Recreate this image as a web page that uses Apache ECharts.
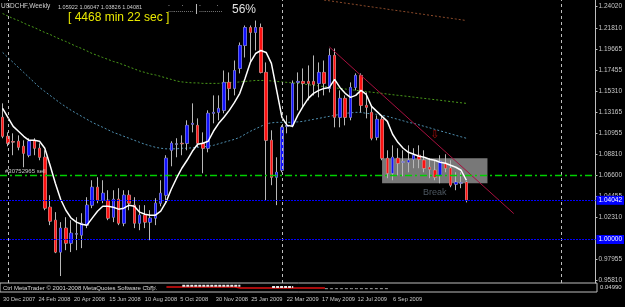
<!DOCTYPE html>
<html><head><meta charset="utf-8">
<script src="https://cdn.jsdelivr.net/npm/echarts@6/dist/echarts.min.js"></script>
<style>html,body{margin:0;padding:0;background:#000;}#c{width:625px;height:307px;}</style>
</head><body><div id="c"></div>
<script>
// ---- data (USDCHF weekly) ----
const months = ['Jan','Feb','Mar','Apr','May','Jun','Jul','Aug','Sep','Oct','Nov','Dec'];
const firstWeek = Date.UTC(2007, 11, 23);
const weekCount = 113; // visible slots incl. chart shift
const categories = Array.from({length: weekCount}, (_, i) => {
  const d = new Date(firstWeek + i * 7 * 864e5);
  return d.getUTCDate() + ' ' + months[d.getUTCMonth()] + ' ' + d.getUTCFullYear();
});
const opens = [1.1260,1.1064,1.1010,1.1013,1.0961,1.0869,1.1023,1.0941,1.0848,1.0333,
1.0199,0.9870,1.0117,0.9962,1.0055,1.0045,1.0148,1.0354,1.0539,1.0405,
1.0405,1.0230,1.0415,1.0168,1.0457,1.0354,1.0168,1.0251,1.0179,1.0220,
1.0374,1.0457,1.0920,1.0982,1.0992,1.0992,1.1188,1.1177,1.0992,1.0941,
1.1301,1.1311,1.1332,1.1620,1.1558,1.1764,1.2001,1.2186,1.2135,1.2186,
1.1723,1.1023,1.0642,1.0714,1.1167,1.1177,1.1620,1.1630,1.1630,1.1630,
1.1610,1.1723,1.1558,1.1898,1.1260,1.1455,1.1260,1.1568,1.1692,1.1383,
1.1311,1.1054,1.1239,1.0838,1.0683,1.0838,1.0796,1.0796,1.0827,1.0869,
1.0817,1.0745,1.0714,1.0663,1.0786,1.0735,1.0570,1.0580,1.05922];
const closes = [1.1064,1.0992,1.1004,1.0951,1.0889,1.1013,1.0941,1.0848,1.0323,1.0189,
0.9870,1.0117,0.9962,1.0065,1.0060,1.0168,1.0354,1.0539,1.0405,1.0477,
1.0220,1.0415,1.0168,1.0457,1.0374,1.0168,1.0251,1.0179,1.0220,1.0374,
1.0477,1.0838,1.0992,1.0987,1.0987,1.1177,1.1198,1.0992,1.0941,1.1301,
1.1311,1.1352,1.1620,1.1558,1.1743,1.2001,1.2186,1.2135,1.2186,1.1723,
1.1023,1.0642,1.0693,1.1157,1.1177,1.1610,1.1630,1.1610,1.1610,1.1599,
1.1723,1.1610,1.1898,1.1260,1.1455,1.1260,1.1568,1.1692,1.1383,1.1363,
1.1044,1.1239,1.0838,1.0683,1.0848,1.0786,1.0802,1.0817,1.0869,1.0827,
1.0735,1.0724,1.0642,1.0807,1.0735,1.0560,1.0591,1.0586,1.04081];
const lows = [1.1044,1.0961,1.0869,1.0920,1.0745,1.0848,1.0869,1.0817,1.0302,1.0148,
0.9859,0.9623,0.9890,0.9870,0.9890,0.9911,1.0117,1.0323,1.0374,1.0374,
1.0199,1.0179,1.0148,1.0137,1.0302,1.0117,1.0096,1.0117,0.9993,1.0148,
1.0343,1.0385,1.0755,1.0848,1.0869,1.0920,1.1105,1.0951,1.0683,1.0899,
1.1198,1.1229,1.1301,1.1435,1.1486,1.1713,1.1877,1.1826,1.1949,1.1713,
1.0405,1.0560,1.0354,1.0693,1.1095,1.1157,1.1332,1.1363,1.1435,1.1486,
1.1466,1.1486,1.1517,1.1157,1.1157,1.1177,1.1229,1.1538,1.1311,1.1249,
1.1023,1.1023,1.0817,1.0632,1.0611,1.0663,1.0652,1.0693,1.0735,1.0735,
1.0693,1.0632,1.0611,1.0580,1.0693,1.0539,1.0508,1.0529,1.03826];
const highs = [1.1404,1.1105,1.1095,1.1074,1.1023,1.1044,1.1044,1.0992,1.0920,1.0457,
1.0282,1.0179,1.0230,1.0199,1.0230,1.0271,1.0436,1.0611,1.0642,1.0611,
1.0508,1.0508,1.0529,1.0508,1.0508,1.0436,1.0354,1.0354,1.0302,1.0426,
1.0611,1.0869,1.1013,1.1044,1.1074,1.1229,1.1404,1.1249,1.1105,1.1332,
1.1486,1.1486,1.1743,1.1723,1.1846,1.2032,1.2207,1.2207,1.2258,1.2227,
1.1826,1.1126,1.0848,1.1177,1.1280,1.1640,1.1723,1.1764,1.1795,1.1898,
1.1826,1.1846,1.1970,1.1970,1.1538,1.1486,1.1620,1.1713,1.1713,1.1517,
1.1383,1.1280,1.1280,1.0920,1.0971,1.0941,1.0920,1.0971,1.0941,1.0971,
1.0920,1.0838,1.0817,1.0869,1.0879,1.0817,1.0693,1.0693,1.06047];
const maFast = [1.1352,1.1260,1.1167,1.1116,1.1064,1.1023,1.1023,1.1013,1.0941,1.0765,
1.0580,1.0415,1.0302,1.0220,1.0179,1.0158,1.0148,1.0220,1.0292,1.0343,
1.0343,1.0333,1.0313,1.0323,1.0354,1.0343,1.0282,1.0261,1.0251,1.0251,
1.0292,1.0385,1.0518,1.0632,1.0735,1.0817,1.0910,1.0982,1.0992,1.1013,
1.1116,1.1198,1.1260,1.1332,1.1414,1.1507,1.1661,1.1826,1.1918,1.1949,
1.1929,1.1816,1.1538,1.1260,1.1177,1.1167,1.1280,1.1373,1.1455,1.1507,
1.1538,1.1558,1.1568,1.1651,1.1568,1.1507,1.1466,1.1486,1.1538,1.1496,
1.1373,1.1321,1.1270,1.1218,1.1085,1.1002,1.0941,1.0899,1.0879,1.0858,
1.0848,1.0827,1.0817,1.0796,1.0786,1.0765,1.0745,1.0714,1.0611];
const maGreen = [1.2330,1.2304,1.2279,1.2258,1.2232,1.2207,1.2186,1.2160,1.2135,1.2114,
1.2088,1.2063,1.2042,1.2016,1.1991,1.1970,1.1944,1.1918,1.1898,1.1877,
1.1857,1.1836,1.1821,1.1800,1.1779,1.1759,1.1738,1.1723,1.1707,1.1697,
1.1682,1.1666,1.1651,1.1635,1.1625,1.1620,1.1615,1.1615,1.1610,1.1610,
1.1610,1.1610,1.1615,1.1620,1.1620,1.1625,1.1630,1.1635,1.1640,1.1640,
1.1640,1.1635,1.1630,1.1625,1.1620,1.1615,1.1610,1.1603,1.1596,1.1590,
1.1584,1.1577,1.1571,1.1564,1.1558,1.1552,1.1545,1.1539,1.1532,1.1526,
1.1519,1.1513,1.1507,1.1500,1.1493,1.1487,1.1481,1.1475,1.1468,1.1461,
1.1455,1.1449,1.1442,1.1436,1.1429,1.1423,1.1416,1.1410,1.1404];
const maBlue = [1.1929,1.1877,1.1826,1.1774,1.1723,1.1671,1.1620,1.1568,1.1527,1.1486,
1.1445,1.1404,1.1368,1.1332,1.1301,1.1270,1.1239,1.1208,1.1182,1.1157,
1.1131,1.1105,1.1085,1.1064,1.1044,1.1023,1.1002,1.0982,1.0966,1.0951,
1.0941,1.0935,1.0935,1.0935,1.0941,1.0941,1.0946,1.0951,1.0956,1.0961,
1.0971,1.0987,1.1002,1.1018,1.1033,1.1054,1.1085,1.1116,1.1141,1.1167,
1.1193,1.1203,1.1208,1.1208,1.1208,1.1208,1.1213,1.1218,1.1229,1.1239,
1.1249,1.1260,1.1270,1.1280,1.1291,1.1301,1.1306,1.1311,1.1311,1.1301,
1.1296,1.1291,1.1280,1.1270,1.1254,1.1239,1.1224,1.1208,1.1198,1.1182,
1.1167,1.1152,1.1136,1.1121,1.1105,1.1090,1.1074,1.1059,1.1044];
const maBrownStart = 61;
const maBrown = [1.2469,1.2462,1.2454,1.2446,1.2438,1.2430,1.2423,1.2415,1.2406,1.2399,
1.2391,1.2384,1.2375,1.2367,1.2360,1.2352,1.2345,1.2336,1.2328,1.2321,
1.2313,1.2305,1.2297,1.2289,1.2282,1.2274,1.2266,1.2258];
const trendIdx = [62, 97];
const trendVal = [1.1986, 1.0267];
const boxIdx = [72, 92];
const boxVal = [1.0838, 1.0580];
const orderLevel = 1.06600;
const priceLines = [1.04042, 1.00000];
const yTicks = [1.24020,1.21810,1.19665,1.17455,1.15310,1.13165,1.10955,1.08810,1.06600,1.04455,1.02310,0.97955,0.95810];
const dateLabels = ['30 Dec 2007','24 Feb 2008','20 Apr 2008','15 Jun 2008','10 Aug 2008','5 Oct 2008','30 Nov 2008','25 Jan 2009','22 Mar 2009','17 May 2009','12 Jul 2009','6 Sep 2009'];
const yearStarts = ['30 Dec 2007','28 Dec 2008','3 Jan 2010'];
// sub-window indicator (rough read)
const subStart = 27;
const subRed = [null,null,null,null,5.5,5.5,5.5,5.5,5.5,5.5,5.5,5.5,5.5,5.5,5.5,5.5,5.5,5.5,
4.4,4.4,4.4,4.4,4.4,4.4,4.4,4.4,4.4,4.4,4.4,4.4,4.4,4.4,4.4,4.4,4.4];
const subGray = [6,6,6,null,null,null,null,null,null,null,null,null,null,null,null,null,null,null,
null,null,null,null,null,null,null,null,null,null,null,null,null,null,null,null,3.7,3.7,3.7,3.7,3.7,3.7,3.7,3.7,3.7,3.7,3.7,3.7,3.7];
const subWhite = [null,null,null,null,null,null,null,7,7,7,7,7,7,7,7,7,7,7,7,null,null,null,null,null,5.5,5.5,5.5,5.5,5.5];

// ---- helpers ----
function hasFont(name) {
  const c = document.createElement('canvas').getContext('2d');
  const s = 'abcdefghij 0123456789';
  c.font = '20px monospace'; const a = c.measureText(s).width;
  c.font = '20px "' + name + '", monospace'; const b = c.measureText(s).width;
  return a !== b;
}
const FONT = 'Liberation Sans, Arial, sans-serif';
const narrow = hasFont('Liberation Sans Narrow');
const DATE_FONT = narrow ? 'Liberation Sans Narrow' : FONT;
const DATE_SIZE = narrow ? 7 : 5.7;

const offset = (start, arr) => categories.map((_, i) => (i >= start && i - start < arr.length ? arr[i - start] : null));
const wicks = opens.map((o, i) => [o, closes[i], lows[i], highs[i]]);
const bodies = opens.map((o, i) => [o, closes[i], Math.min(o, closes[i]), Math.max(o, closes[i])]);

const chart = echarts.init(document.getElementById('c'), null, {renderer: 'canvas'});
chart.setOption({
  backgroundColor: '#000000',
  animation: false,
  grid: [
    {left: 0, right: 28, top: 0, height: 283},
    {left: 0, right: 28, top: 283, height: 9, show: true, borderColor: '#bdbdbd', borderWidth: 1},
    {left: 2, width: 391, top: 293, height: 1}
  ],
  xAxis: [
    {type: 'category', data: categories, gridIndex: 0, boundaryGap: true, show: false},
    {type: 'category', data: categories, gridIndex: 1, boundaryGap: true, show: false},
    {type: 'category', data: dateLabels, gridIndex: 2, boundaryGap: false,
     axisLine: {show: false}, axisTick: {show: false},
     axisLabel: {show: true, interval: 0, align: 'left', margin: 2, fontSize: DATE_SIZE, color: '#c8c8c8', fontFamily: DATE_FONT}}
  ],
  yAxis: [
    {type: 'value', gridIndex: 0, position: 'right', min: 0.95514, max: 1.24698,
     splitLine: {show: false},
     axisLine: {show: true, lineStyle: {color: '#bdbdbd', width: 1}},
     axisTick: {show: true, length: 2, customValues: yTicks, lineStyle: {color: '#bdbdbd'}},
     axisLabel: {show: true, customValues: yTicks, margin: 3, fontSize: 6.5, color: '#c8c8c8', fontFamily: FONT,
       formatter: v => v.toFixed(5)}},
    {type: 'value', gridIndex: 1, min: 0, max: 10, show: false},
    {type: 'value', gridIndex: 2, show: false}
  ],
  graphic: [
    {type: 'text', left: 1, top: 3, style: {text: 'USDCHF,Weekly', fill: '#d0d0d0', font: '6.5px ' + FONT}},
    {type: 'text', left: 58, top: 4, style: {text: '1.05922 1.06047 1.03826 1.04081', fill: '#d0d0d0', font: '5.5px ' + FONT}},
    {type: 'text', left: 68, top: 12, style: {text: '[ 4468 min 22 sec ]', fill: '#e8e800', font: '12px ' + FONT}},
    {type: 'text', left: 168, top: 1, style: {text: '.      .        .        .        .', fill: '#d0d0d0', font: '7px ' + FONT}},
    {type: 'text', left: 168, top: 7, style: {text: '.............', fill: '#d0d0d0', font: '7px ' + FONT}},
    {type: 'text', left: 195, top: 3, style: {text: '|', fill: '#d0d0d0', font: '11px ' + FONT}},
    {type: 'text', left: 199, top: 7, style: {text: '............', fill: '#d0d0d0', font: '7px ' + FONT}},
    {type: 'text', left: 232, top: 4, style: {text: '56%', fill: '#e0e0e0', font: '12px ' + FONT}},
    {type: 'text', left: 3, top: 285, style: {text: 'Ctrl MetaTrader \u00a9 2001-2008 MetaQuotes Software Corp.', fill: '#d8d8d8', font: '6px ' + FONT}},
    {type: 'text', left: 600, top: 284, style: {text: '0.04990', fill: '#d8d8d8', font: '6px ' + FONT}}
  ],
  series: [
    {type: 'line', name: 'box', data: [], z: 1, silent: true,
     markArea: {silent: true, itemStyle: {color: '#787878'},
       data: [[{xAxis: boxIdx[0], yAxis: boxVal[0]}, {xAxis: boxIdx[1], yAxis: boxVal[1]}]]},
     markLine: {silent: true, symbol: 'none', animation: false,
       lineStyle: {color: '#bdbdbd', type: [3, 3], width: 1}, label: {show: false},
       data: yearStarts.map(d => ({xAxis: d}))}},
    {type: 'line', name: 'order', data: [], z: 2, silent: true, color: '#00d000',
     itemStyle: {color: '#00d000'},
     markLine: {silent: true, symbol: 'none', animation: false, precision: 5,
       itemStyle: {color: '#00d000'},
       lineStyle: {color: '#00d000', type: [7, 3, 2, 3], width: 1.3, opacity: 1},
       label: {show: true, position: 'insideStartTop', formatter: '#30752965 sell', color: '#c8c8c8', fontSize: 6, fontFamily: FONT, distance: [5, 1]},
       data: [{yAxis: orderLevel, lineStyle: {color: '#00d000'}}]}},
    {type: 'line', name: 'levels', data: [], z: 2, silent: true,
     markLine: {silent: true, symbol: 'none', animation: false, precision: 5,
       lineStyle: {color: '#0000ff', type: [2, 1], width: 1},
       label: {show: true, position: 'end', color: '#ffffff', backgroundColor: '#0000ff',
         fontSize: 6.5, fontFamily: FONT, padding: [1, 2, 1, 2], distance: 1},
       data: priceLines.map(v => ({yAxis: v, label: {formatter: v.toFixed(5)}}))}},
    {type: 'line', name: 'MA long', data: offset(maBrownStart, maBrown), symbol: 'none', z: 2,
     lineStyle: {color: '#8b4a2a', width: 1, type: [2, 2]}},
    {type: 'line', name: 'MA slow', data: maGreen, symbol: 'none', z: 2,
     lineStyle: {color: '#4a9a1a', width: 1, type: [2, 2]}},
    {type: 'line', name: 'MA mid', data: maBlue, symbol: 'none', z: 2,
     lineStyle: {color: '#4f8fb0', width: 1, type: [2, 2]}},
    {type: 'candlestick', name: 'wicks', data: wicks, z: 3, barWidth: 3,
     itemStyle: {color: 'rgba(0,0,0,0)', color0: 'rgba(0,0,0,0)', borderColor: '#b8b8b8', borderColor0: '#b8b8b8', borderWidth: 1}},
    {type: 'candlestick', name: 'USDCHF', data: bodies, z: 3, barWidth: 3,
     itemStyle: {color: '#1010ff', color0: '#ff1010', borderColor: '#1010ff', borderColor0: '#ff1010', borderWidth: 0}},
    {type: 'line', name: 'MA fast', data: maFast, symbol: 'none', z: 4,
     lineStyle: {color: '#ffffff', width: 1.5}},
    {type: 'line', name: 'trend', data: trendIdx.map((x, k) => [x, trendVal[k]]), symbol: 'none', z: 4,
     lineStyle: {color: '#a8103f', width: 1}},
    {type: 'scatter', name: 'notes', symbolSize: 1, itemStyle: {color: 'rgba(0,0,0,0)'}, z: 5,
     data: [
       {value: [82, 1.0482], label: {show: true, position: 'inside', formatter: 'Break', color: '#5f6b78', fontSize: 9, fontFamily: FONT}},
       {value: [82, 1.1074], label: {show: true, position: 'inside', formatter: '\u21e9', color: '#d01010', fontSize: 11, fontFamily: 'DejaVu Sans'}}
     ]},
    {type: 'line', name: 'sub red', xAxisIndex: 1, yAxisIndex: 1, data: offset(subStart, subRed), symbol: 'none',
     lineStyle: {color: '#e01010', width: 1.5}},
    {type: 'line', name: 'sub gray', xAxisIndex: 1, yAxisIndex: 1, data: offset(subStart, subGray), symbol: 'none',
     lineStyle: {color: '#a0a0a0', width: 1, type: [3, 2]}},
    {type: 'line', name: 'sub white', xAxisIndex: 1, yAxisIndex: 1, data: offset(subStart, subWhite), symbol: 'none',
     lineStyle: {color: '#e8e8e8', width: 2, type: [3, 1]}}
  ]
});
</script></body></html>
